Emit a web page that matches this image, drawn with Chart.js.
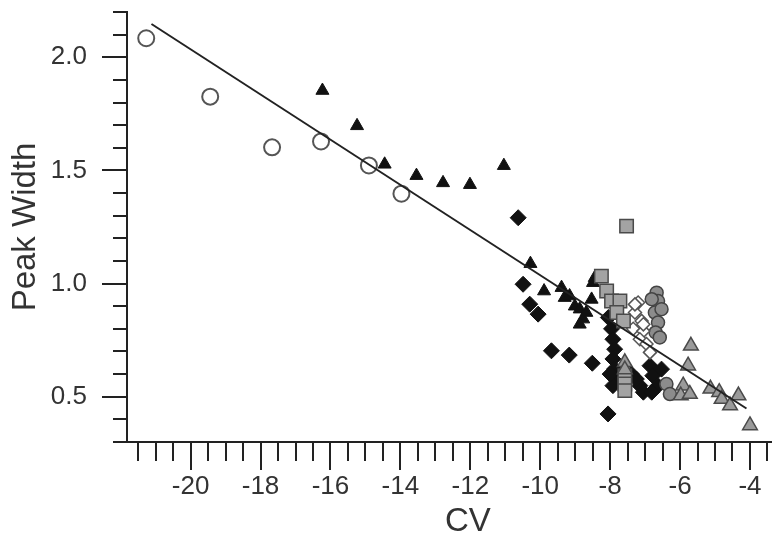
<!DOCTYPE html>
<html>
<head>
<meta charset="utf-8">
<script src="https://cdn.jsdelivr.net/npm/chart.js@4.4.1/dist/chart.umd.min.js"></script>
<style>
  html, body { margin: 0; padding: 0; background: #fff; }
  #wrap { width: 772px; height: 544px; }
</style>
</head>
<body>
<div id="wrap"><canvas id="chart" width="772" height="544"></canvas></div>
<script>
// values
const openCircleX = [-21.27, -19.44, -17.67, -16.27, -14.90, -13.97]
const openCircleY = [2.084, 1.826, 1.602, 1.628, 1.522, 1.397]

const blackTriX = [-16.23, -15.24, -14.45, -13.54, -12.78, -12.01, -11.04, -10.28, -9.89, -9.39, -9.30, -9.16, -9.01, -8.87, -8.77, -8.68, -8.53, -8.49, -8.44, -8.87]
const blackTriY = [1.853, 1.697, 1.527, 1.477, 1.445, 1.437, 1.521, 1.088, 0.967, 0.982, 0.938, 0.945, 0.900, 0.887, 0.843, 0.872, 0.930, 1.004, 1.026, 0.820]

const blackDiaX = [-10.63, -10.49, -10.30, -10.06, -9.68, -9.17, -8.51, -8.06, -7.96, -7.92, -7.87, -7.92, -7.87, -7.82, -7.92, -7.15, -7.05, -7.39, -7.25, -6.86, -6.78, -6.63, -6.81, -6.53, -8.05, -8.00]
const blackDiaY = [1.291, 0.997, 0.909, 0.865, 0.703, 0.684, 0.648, 0.424, 0.800, 0.754, 0.710, 0.667, 0.623, 0.578, 0.549, 0.549, 0.520, 0.600, 0.578, 0.637, 0.593, 0.549, 0.520, 0.622, 0.850, 0.600]

const greySqX = [-8.25, -8.10, -7.96, -7.72, -7.81, -7.62, -7.53, -7.58, -7.58, -7.58]
const greySqY = [1.033, 0.967, 0.923, 0.923, 0.872, 0.835, 1.254, 0.593, 0.556, 0.527]

const greyCircX = [-6.67, -6.63, -6.72, -6.63, -6.70, -6.58, -6.81, -6.53, -6.39, -6.29]
const greyCircY = [0.960, 0.923, 0.872, 0.828, 0.784, 0.762, 0.931, 0.887, 0.556, 0.512]

const openDiaX = [-7.20, -7.29, -7.10, -7.34, -7.05, -7.15, -6.96, -6.86, -7.29, -7.05]
const openDiaY = [0.916, 0.872, 0.835, 0.800, 0.790, 0.754, 0.733, 0.696, 0.908, 0.820]

const greyTriX = [-7.58, -7.58, -5.69, -5.77, -5.91, -5.98, -5.72, -5.13, -4.88, -4.81, -4.57, -4.33, -4.00]
const greyTriY = [0.652, 0.620, 0.725, 0.637, 0.549, 0.505, 0.512, 0.535, 0.520, 0.490, 0.461, 0.505, 0.373]

// fitted line end points
const fitX = [-21.12, -4.10]
const fitY = [2.147, 0.448]

const xMin = -21.82, xMax = -3.37
const yMin = 0.3, yMax = 2.2

function toPoints(xs, ys) {
    return xs.map((x, i) => ({x: x, y: ys[i]}))
}

function isMajor(v, step) {
    let r = v / step
    return Math.abs(r - Math.round(r)) < 1e-6
}

// draws the long and short tick marks outside the plot
const tickMarks = {
    id: 'tickMarks',
    afterDraw(chart) {
        let ctx = chart.ctx
        let xs = chart.scales.x
        let ys = chart.scales.y
        ctx.save()
        ctx.strokeStyle = '#222'
        ctx.lineWidth = 2
        ctx.beginPath()
        xs.ticks.forEach(t => {
            let px = Math.round(xs.getPixelForValue(t.value))
            let len = isMajor(t.value, 2) ? 28 : 19
            ctx.moveTo(px, xs.top)
            ctx.lineTo(px, xs.top + len)
        })
        ys.ticks.forEach(t => {
            let py = Math.round(ys.getPixelForValue(t.value))
            let len = isMajor(t.value, 0.5) ? 25 : 14
            ctx.moveTo(ys.right - len, py)
            ctx.lineTo(ys.right, py)
        })
        ctx.stroke()
        ctx.restore()
    }
}

const font = 'Liberation Sans, Arial, sans-serif'

const data = {
    datasets: [{
            type: 'line',
            data: toPoints(fitX, fitY),
            borderColor: '#222',
            borderWidth: 2,
            pointRadius: 0
        },
        {
            data: toPoints(greyTriX, greyTriY),
            pointStyle: 'triangle',
            pointRadius: 8.5,
            backgroundColor: '#9a9a9a',
            borderColor: '#4a4a4a',
            borderWidth: 1.5
        },
        {
            data: toPoints(greySqX, greySqY),
            pointStyle: 'rect',
            pointRadius: 9.5,
            backgroundColor: '#a3a3a3',
            borderColor: '#4a4a4a',
            borderWidth: 1.5
        },
        {
            data: toPoints(openDiaX, openDiaY),
            pointStyle: 'rectRot',
            pointRadius: 6.5,
            backgroundColor: '#fff',
            borderColor: '#555',
            borderWidth: 1.5
        },
        {
            data: toPoints(greyCircX, greyCircY),
            pointStyle: 'circle',
            pointRadius: 6.5,
            backgroundColor: '#8c8c8c',
            borderColor: '#444',
            borderWidth: 1.5
        },
        {
            data: toPoints(blackDiaX, blackDiaY),
            pointStyle: 'rectRot',
            pointRadius: 8,
            backgroundColor: '#111',
            borderColor: '#111',
            borderWidth: 1
        },
        {
            data: toPoints(blackTriX, blackTriY),
            pointStyle: 'triangle',
            pointRadius: 7.5,
            backgroundColor: '#111',
            borderColor: '#111',
            borderWidth: 1
        },
        {
            data: toPoints(openCircleX, openCircleY),
            pointStyle: 'circle',
            pointRadius: 8,
            backgroundColor: '#fff',
            borderColor: '#555',
            borderWidth: 2
        }
    ]
}

const config = {
    type: 'scatter',
    data: data,
    plugins: [tickMarks],
    options: {
        responsive: false,
        animation: false,
        layout: {autoPadding: false, padding: {top: 12, right: 0, left: 0, bottom: 0}},
        plugins: {legend: {display: false}, tooltip: {enabled: false}},
        scales: {
            x: {
                type: 'linear',
                min: xMin,
                max: xMax,
                afterFit: s => {
                    s.height = 102
                    s.paddingLeft = 0
                    s.paddingRight = 0
                },
                grid: {display: false},
                border: {display: true, color: '#222', width: 2},
                ticks: {
                    stepSize: 0.5,
                    includeBounds: false,
                    autoSkip: false,
                    maxRotation: 0,
                    padding: 21,
                    color: '#333',
                    font: {family: font, size: 26},
                    callback: v => isMajor(v, 2) ? String(v) : ''
                },
                title: {
                    display: true,
                    text: '    CV',
                    color: '#333',
                    font: {family: font, size: 33},
                    padding: {top: 0, bottom: 2}
                }
            },
            y: {
                type: 'linear',
                min: yMin,
                max: yMax,
                afterFit: s => {
                    s.width = 127
                    s.paddingTop = 0
                    s.paddingBottom = 0
                },
                grid: {display: false},
                border: {display: true, color: '#222', width: 2},
                ticks: {
                    stepSize: 0.1,
                    autoSkip: false,
                    padding: 32,
                    color: '#333',
                    font: {family: font, size: 26},
                    callback: v => isMajor(v, 0.5) ? v.toFixed(1) : ''
                },
                title: {
                    display: true,
                    text: 'Peak Width',
                    color: '#333',
                    font: {family: font, size: 33},
                    padding: {top: 6, bottom: 0}
                }
            }
        }
    }
}

let ctx = document.getElementById('chart').getContext('2d')
new Chart(ctx, config)
</script>
</body>
</html>
